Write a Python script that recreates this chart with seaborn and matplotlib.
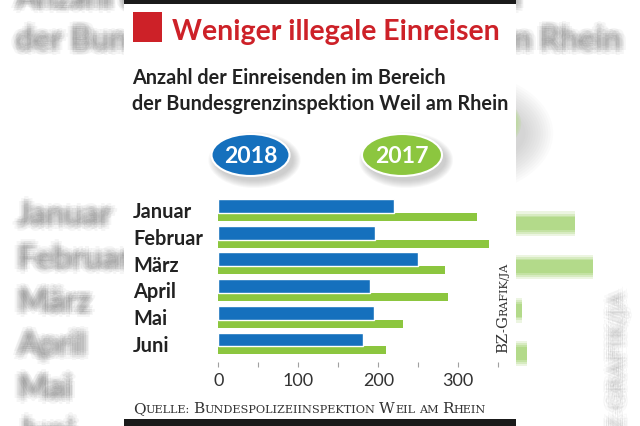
import numpy as np
import pandas as pd
import matplotlib
matplotlib.use("Agg")
import matplotlib.pyplot as plt
from matplotlib.patches import Ellipse, Rectangle
import seaborn as sns

# ---------------- data ----------------
months = ["Januar", "Februar", "März", "April", "Mai", "Juni"]
values_2018 = [220, 196, 250, 190, 195, 181]
values_2017 = [324, 338, 283, 287, 231, 209]
series_labels = ["2018", "2017"]
tick_values = [0, 100, 200, 300]
title_text = "Weniger illegale Einreisen"
subtitle_lines = ["Anzahl der Einreisenden im Bereich",
                  "der Bundesgrenzinspektion Weil am Rhein"]
source_text = "Quelle: Bundespolizeiinspektion Weil am Rhein"
credit_text = "BZ-Grafik/ja"

# ---------------- style ----------------
W, H, DPI = 640, 427, 100
BLUE, GREEN, RED, INK = "#1570BD", "#8CC63F", "#CD2128", "#222222"
SERIF = ["DejaVu Serif", "Liberation Serif"]

sns.set_theme(style="white")
plt.rcParams["font.family"] = ["Lato", "DejaVu Sans"]

fig = plt.figure(figsize=(W / DPI, H / DPI), dpi=DPI)
fig.patch.set_facecolor("white")
renderer = fig.canvas.get_renderer()


def pt(px):
    return px * 72.0 / DPI


def px_axes(l, t, r, b, z):
    return fig.add_axes([l / W, 1 - b / H, (r - l) / W, (b - t) / H], zorder=z)


def pixel_axes(z):
    a = px_axes(0, 0, W, H, z)
    a.set_xlim(0, W)
    a.set_ylim(H, 0)
    a.axis("off")
    a.patch.set_alpha(0)
    return a


def fit_size(s, target_px, base=12, **kw):
    tt = fig.text(0, 0, s, fontsize=base, **kw)
    w = tt.get_window_extent(renderer).width
    tt.remove()
    return base * target_px / w


df = pd.DataFrame({"pos": np.arange(len(months)), "Monat": months,
                   "y2018": values_2018, "y2017": values_2017})

# chart geometry (pixels)
X0, X350, XMAX = 218.3, 498.3, 350
ROW0, ROWH = 211.0, 26.7
YTOP, YBOT = -0.5, 5.69
OFF_B, WID_B = -0.15, 0.52
OFF_G, WID_G = 0.26, 0.30
LABEL_DY = 0.273

S, CX, CY = 1.62, 320.0, 207.0   # blurred enlarged background copy

FS_SUB = fit_size(subtitle_lines[1], 373, fontweight="bold")
FS_MON = fit_size("Februar", 69.5, fontweight="bold")


def sc(x, y):
    return CX + S * (x - CX), CY + S * (y - CY)


def chart_box(scale=1.0):
    l, r = X0, X350
    t, b = ROW0 + YTOP * ROWH, ROW0 + YBOT * ROWH
    f = lambda v, c: c + scale * (v - c)
    return f(l, CX), f(t, CY), f(r, CX), f(b, CY)


def draw_bars(ax, c18, c17, ec18, lw18, grow=1.0, alpha=1.0):
    sns.barplot(x=df["y2017"], y=df["pos"] + OFF_G, orient="h", native_scale=True,
                width=WID_G * grow, color=c17, saturation=1, linewidth=0,
                errorbar=None, alpha=alpha, ax=ax)
    sns.barplot(x=df["y2018"], y=df["pos"] + OFF_B, orient="h", native_scale=True,
                width=WID_B * grow, color=c18, saturation=1, edgecolor=ec18,
                linewidth=lw18, errorbar=None, alpha=alpha, ax=ax)
    ax.set_xlim(0, XMAX)
    ax.set_ylim(YBOT, YTOP)


BLUR_OFFS = [(0.0, 0.0)] + [(r * np.cos(a), r * np.sin(a))
                            for r in (2.6, 5.2)
                            for a in np.linspace(0, 2 * np.pi, 8, endpoint=False)]


def blur_text(ax, x, y, s, color="#5a5a5a", alpha=0.055, **kw):
    for dx, dy in BLUR_OFFS:
        ax.text(x + dx, y + dy, s, color=color, alpha=alpha, **kw)


# ---------------- blurred background ----------------
bg = pixel_axes(0)
for i, line in enumerate(subtitle_lines):
    x, y = sc(132, 84 + 26 * i)
    blur_text(bg, x, y, line, fontsize=FS_SUB * S, fontweight="bold",
              va="baseline", ha="left")
for i, m in enumerate(months):
    x, y = sc(133, 218.3 + ROWH * i)
    blur_text(bg, x, y, m, fontsize=FS_MON * S, fontweight="bold",
              va="baseline", ha="left")
x, y = sc(507, 353)
blur_text(bg, x, y, credit_text.upper(), fontsize=pt(13) * S,
          family=SERIF, rotation=90, rotation_mode="anchor",
          ha="left", va="baseline", alpha=0.04)
# background ellipse (2017) with shadow
ex, ey = sc(402, 156)
for k in range(12):
    bg.add_patch(Ellipse((ex + 8, ey + 10), 80 * S + 5 * k, 42 * S + 5 * k,
                         color="#8a8a8a", alpha=0.03, lw=0))
for k in range(6):
    bg.add_patch(Ellipse((ex, ey), 80 * S + 3 * k - 8, 42 * S + 3 * k - 8,
                         color="#B5DB8B", alpha=0.25, lw=0))

bgc = px_axes(*chart_box(S), 0.5)
for g, a in [(1.9, 0.22), (1.55, 0.3), (1.25, 0.4), (1.0, 0.6)]:
    draw_bars(bgc, "#9CC2E4", "#A9D57A", "none", 0, grow=g, alpha=a)
bgc.axis("off")

# ---------------- panel ----------------
panel = pixel_axes(1)
panel.add_patch(Rectangle((124, 0), 392, H, color="white", lw=0))
panel.add_patch(Rectangle((124, 0), 392, 4.5, color="#1a1a1a", lw=0))
panel.add_patch(Rectangle((124, 420), 392, 7, color="#1a1a1a", lw=0))

# ---------------- main chart ----------------
ax = px_axes(*chart_box(1.0), 3)
draw_bars(ax, BLUE, GREEN, "white", 1.0)
ax.patch.set_alpha(0)
for s in ax.spines.values():
    s.set_visible(False)
ticks = np.arange(0, XMAX + 1, 50)
ax.set_xticks(ticks, [str(v) if v in tick_values else "" for v in ticks])
ax.tick_params(axis="x", bottom=True, length=pt(5), width=0.8, color="#a0a0a0",
               pad=pt(5.5), labelsize=pt(18), labelcolor="#333333", direction="out")
ax.set_yticks(df["pos"] + LABEL_DY, months)
ax.tick_params(axis="y", left=True, length=0, pad=pt(X0 - 133), labelsize=FS_MON)
for lab in ax.get_yticklabels():
    lab.set_ha("left")
    lab.set_va("baseline")
    lab.set_fontweight("bold")
    lab.set_color(INK)
ax.set_xlabel("")
ax.set_ylabel("")
ax.grid(False)

# ---------------- overlay texts ----------------
ov = pixel_axes(4)
ov.add_patch(Rectangle((133.3, 13.3), 28.5, 29.5, color=RED, lw=0))
fs_title = fit_size(title_text, 328, base=20, fontweight="bold")
ov.text(172, 40, title_text, color=RED, fontsize=fs_title, fontweight="bold",
        ha="left", va="baseline")

for i, line in enumerate(subtitle_lines):
    ov.text(132, 84 + 26 * i, line, color=INK, fontsize=FS_SUB, fontweight="bold",
            ha="left", va="baseline")

# legend ellipses
for (cx, cy, ew, col, lab) in [(250.5, 156, 78, BLUE, series_labels[0]),
                               (402, 156, 80, GREEN, series_labels[1])]:
    for k in range(8):
        ov.add_patch(Ellipse((cx + 4, cy + 5), ew + 2 * k, 42 + 2 * k,
                             color="#7a7a7a", alpha=0.05, lw=0))
    ov.add_patch(Ellipse((cx, cy), ew, 42, facecolor=col, edgecolor="white", lw=1.5))
    ov.text(cx, cy + 1, lab, color="white", fontsize=pt(23), fontweight="bold",
            ha="center", va="center")


def smallcaps(axx, x, y, s, big, small, rotation=0, target=None, **kw):
    def layout(big, small):
        xx, yy = x, y
        arts = []
        space = small * DPI / 72.0 * 0.32
        words = s.split(" ")
        for wi, word in enumerate(words):
            runs = []
            for ch in word:
                isbig = ch.isupper()
                if runs and runs[-1][1] == isbig:
                    runs[-1][0] += ch
                else:
                    runs.append([ch, isbig])
            for chunk, isbig in runs:
                tt = axx.text(xx, yy, chunk.upper(), fontsize=big if isbig else small,
                              rotation=rotation, rotation_mode="anchor", ha="left",
                              va="baseline", **kw)
                arts.append(tt)
                bb = tt.get_window_extent(renderer)
                if rotation == 0:
                    xx += bb.width
                else:
                    yy -= bb.height
            if wi < len(words) - 1:
                if rotation == 0:
                    xx += space
                else:
                    yy -= space
        length = (xx - x) if rotation == 0 else (y - yy)
        return arts, length

    arts, length = layout(big, small)
    if target:
        for a in arts:
            a.remove()
        f = target / length
        layout(big * f, small * f)


smallcaps(ov, 133, 413, source_text, 11.5, 8.4, color="#333333", family=SERIF,
          target=354)
smallcaps(ov, 507.5, 353, credit_text, 11.0, 8.2, rotation=90, color="#333333",
          family=SERIF, target=90)

fig.savefig("out.png", dpi=DPI, facecolor="white")
